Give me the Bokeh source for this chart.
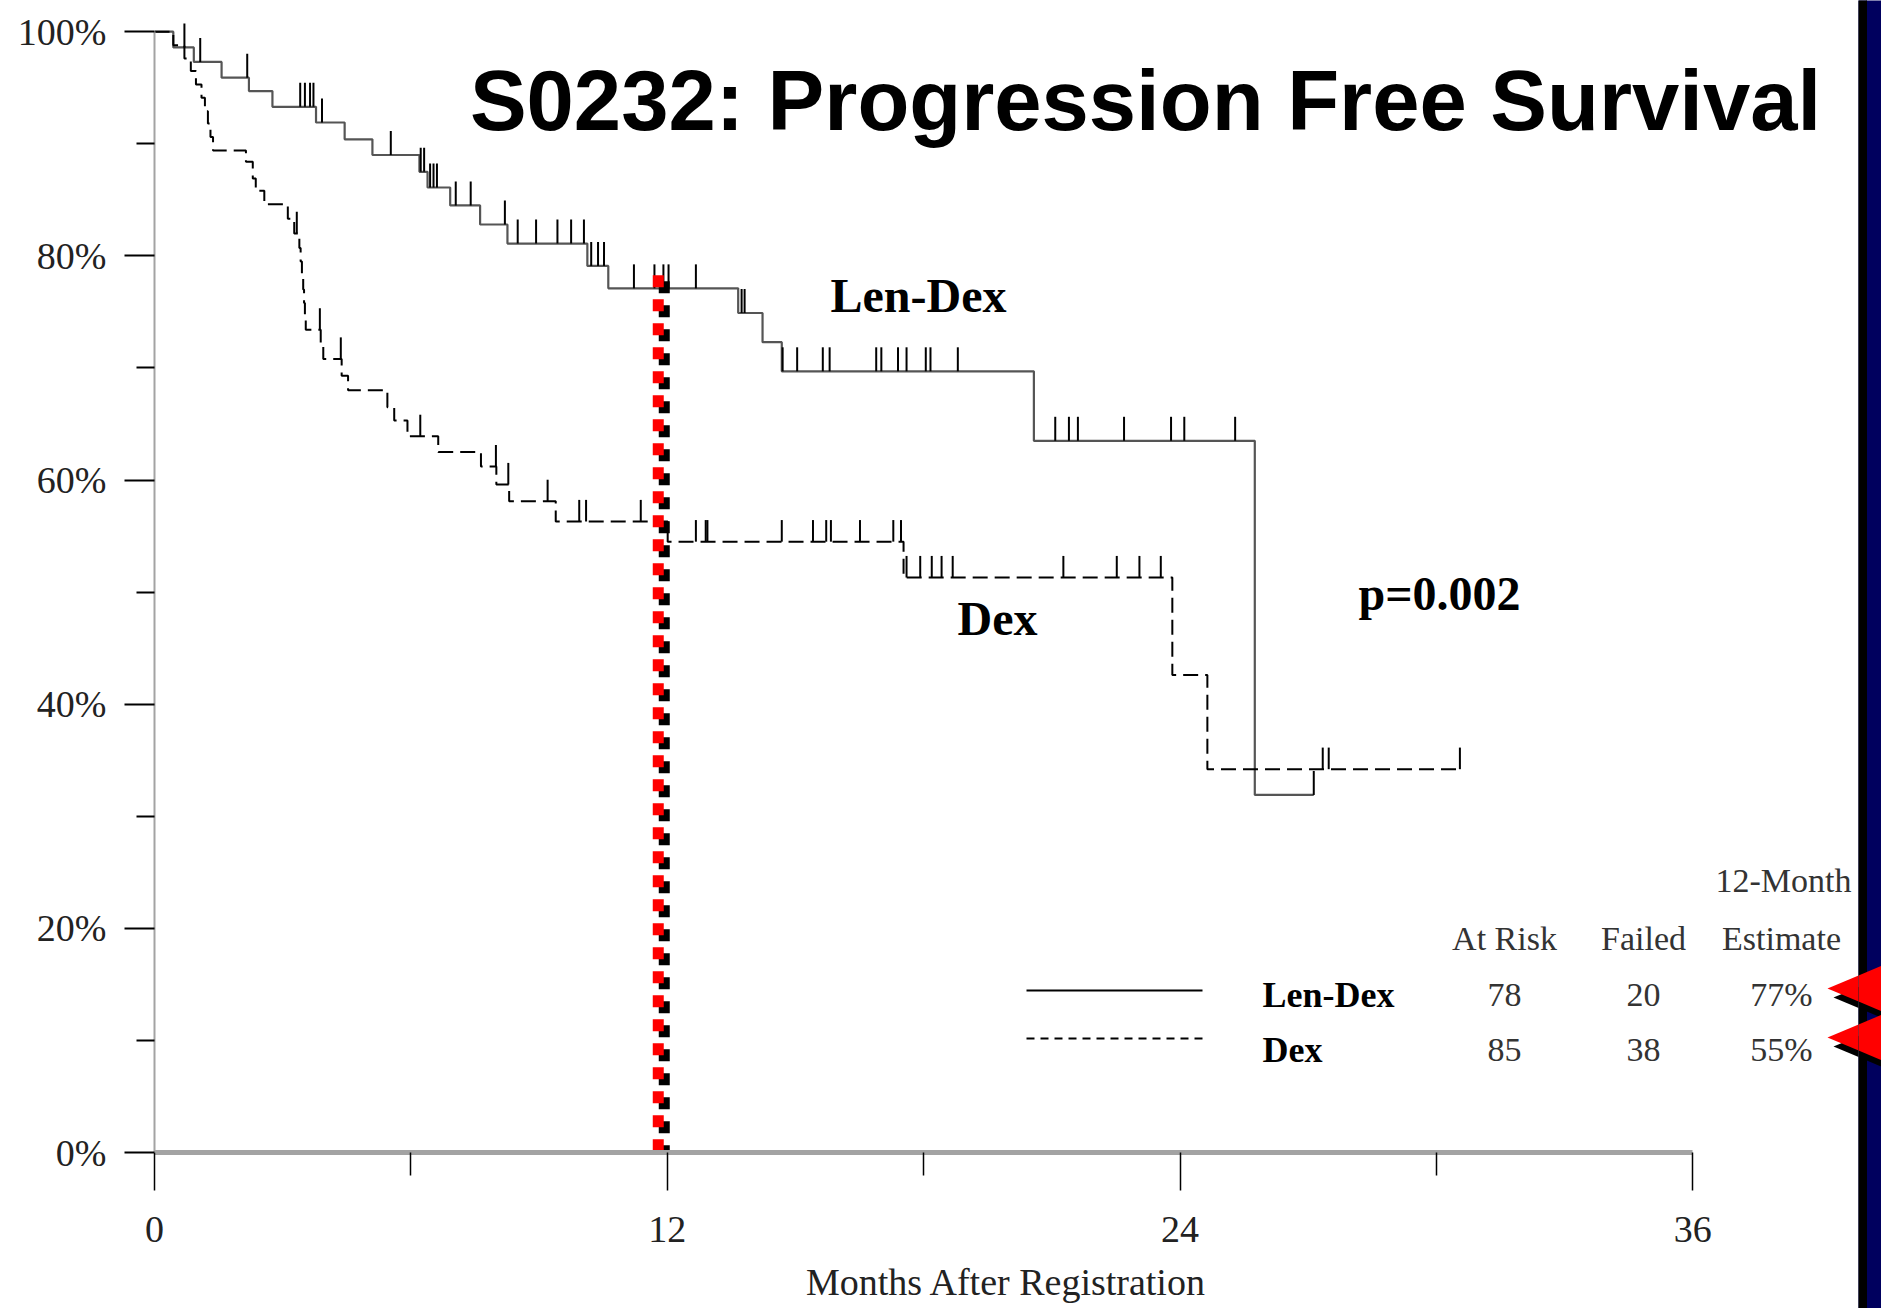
import numpy as np
from bokeh.plotting import figure
from bokeh.layouts import row
from bokeh.models import Range1d, FixedTicker, NumeralTickFormatter, PolyAnnotation
from bokeh.core.properties import value
from bokeh.embed import file_html
from bokeh.resources import INLINE

# ---------------- data ----------------
title_text = "S0232: Progression Free Survival"
x_axis_title = "Months After Registration"
x_ticks = [0, 12, 24, 36]
x_minor = [6, 18, 30]
y_ticks = [0.0, 0.2, 0.4, 0.6, 0.8, 1.0]
y_minor = [0.1, 0.3, 0.5, 0.7, 0.9]

arm_names = ["Len-Dex", "Dex"]
at_risk = [78, 85]
failed = [20, 38]
estimate_12 = ["77%", "55%"]
landmark_month = 12
p_value_text = "p=0.002"

len_event_months = [0.44, 0.92, 1.57, 2.21, 2.76, 3.78, 4.45, 5.10, 6.20, 6.39, 6.92, 7.62, 8.26,
                    10.13, 10.62, 13.66, 14.23, 14.68, 20.58, 25.75]
len_event_surv = [0.986, 0.973, 0.959, 0.947, 0.933, 0.919, 0.904, 0.890, 0.875, 0.861, 0.845,
                  0.828, 0.811, 0.791, 0.771, 0.749, 0.723, 0.697, 0.635, 0.319]
len_last_month = 27.13
len_censor_months = [0.70, 1.07, 2.17, 3.41, 3.52, 3.64, 3.72, 3.92, 5.53, 6.23, 6.31, 6.45, 6.53,
                     6.61, 7.05, 7.40, 8.20, 8.50, 8.93, 9.43, 9.75, 10.05, 10.22, 10.38, 10.52,
                     11.22, 11.70, 11.91, 12.03, 12.67, 13.74, 13.81, 14.70, 15.04, 15.64, 15.80,
                     16.89, 17.01, 17.40, 17.60, 18.05, 18.16, 18.80, 21.08, 21.40, 21.61, 22.69,
                     23.79, 24.10, 25.29, 27.13]

dex_event_months = [0.44, 0.70, 0.85, 0.97, 1.10, 1.18, 1.25, 1.31, 1.37, 2.14, 2.30, 2.37, 2.57,
                    3.12, 3.27, 3.39, 3.42, 3.45, 3.48, 3.50, 3.52, 3.54, 3.89, 3.95, 4.38, 4.53,
                    5.45, 5.61, 5.92, 6.64, 7.64, 8.00, 8.30, 9.39, 12.01, 17.53, 23.82, 24.64]
dex_event_surv = [0.988, 0.976, 0.965, 0.953, 0.941, 0.929, 0.918, 0.906, 0.894, 0.884, 0.869,
                  0.858, 0.846, 0.833, 0.820, 0.807, 0.795, 0.783, 0.770, 0.758, 0.746, 0.734,
                  0.721, 0.708, 0.693, 0.680, 0.665, 0.653, 0.639, 0.625, 0.612, 0.596, 0.581,
                  0.563, 0.545, 0.513, 0.426, 0.342]
dex_last_month = 30.55
dex_censor_months = [3.33, 3.87, 4.36, 6.22, 7.99, 8.28, 9.20, 9.94, 10.10, 11.38, 12.67, 12.90,
                     12.94, 14.68, 15.41, 15.72, 15.83, 16.51, 17.29, 17.47, 17.60, 17.92, 18.19,
                     18.42, 18.68, 21.27, 22.52, 23.05, 23.55, 27.34, 27.48, 30.55]

# ---------------- layout helpers (page pixels -> data) ----------------
PAGE_W, H = 1881, 1308
W = 1858                    # main figure width; the slide's dark edge band follows
BL, BB = 154, 156
X0, PXM = 154.0, 42.73      # page x of month 0, px per month
Y0, PXS = 1152.0, 1120.8    # page y of 0 %, px per 100 %


def X(px):
    return (px - X0) / PXM


def Y(py):
    return (Y0 - py) / PXS


def surv_at(t, ev_t, ev_s):
    i = np.searchsorted(np.array(ev_t), t, side="right")
    return 1.0 if i == 0 else ev_s[i - 1]


p = figure(width=W, height=H, output_backend="svg", toolbar_location=None,
           x_range=Range1d(0, (W - BL) / PXM), y_range=Range1d(0, Y0 / PXS),
           min_border_left=BL, min_border_right=0, min_border_top=0, min_border_bottom=BB,
           margin=0)
p.outline_line_color = None
p.xgrid.visible = False
p.ygrid.visible = False
p.background_fill_color = "white"
p.border_fill_color = "white"

# axes
xa = p.xaxis[0]
xa.ticker = FixedTicker(ticks=x_ticks, minor_ticks=x_minor)
xa.bounds = (0, 36)
xa.axis_line_color = "#a3a3a3"
xa.axis_line_width = 5
xa.major_tick_line_color = "black"
xa.major_tick_line_width = 1.5
xa.major_tick_in = 0
xa.major_tick_out = 38
xa.minor_tick_line_color = "black"
xa.minor_tick_line_width = 1.5
xa.minor_tick_in = 0
xa.minor_tick_out = 23
xa.major_label_text_font = "Liberation Serif"
xa.major_label_text_font_size = "38px"
xa.major_label_text_color = "#222222"
xa.major_label_standoff = 26
xa.axis_label = x_axis_title
xa.axis_label_text_font = "Liberation Serif"
xa.axis_label_text_font_size = "38px"
xa.axis_label_text_font_style = "normal"
xa.axis_label_text_color = "#222222"
xa.axis_label_standoff = 16

ya = p.yaxis[0]
ya.ticker = FixedTicker(ticks=y_ticks, minor_ticks=y_minor)
ya.formatter = NumeralTickFormatter(format="0%")
ya.bounds = (0, 1)
ya.axis_line_color = "#a3a3a3"
ya.axis_line_width = 2
ya.major_tick_line_color = "black"
ya.major_tick_line_width = 2
ya.major_tick_in = 0
ya.major_tick_out = 30
ya.minor_tick_line_color = "black"
ya.minor_tick_line_width = 2
ya.minor_tick_in = 0
ya.minor_tick_out = 18
ya.major_label_text_font = "Liberation Serif"
ya.major_label_text_font_size = "38px"
ya.major_label_text_color = "#222222"
ya.major_label_standoff = 18

# KM curves
lx = [0] + len_event_months + [len_last_month]
ly = [1.0] + len_event_surv + [len_event_surv[-1]]
p.step(lx, ly, mode="after", line_color="#555555", line_width=2.2)
dx = [0] + dex_event_months + [dex_last_month]
dy = [1.0] + dex_event_surv + [dex_event_surv[-1]]
p.step(dx, dy, mode="after", line_color="black", line_width=2, line_dash="15 7")

TICK = 24 / PXS
ls = [surv_at(t, len_event_months, len_event_surv) for t in len_censor_months]
p.segment(x0=len_censor_months, y0=ls, x1=len_censor_months, y1=[s + TICK for s in ls],
          line_color="black", line_width=2)
ds = [surv_at(t, dex_event_months, dex_event_surv) for t in dex_censor_months]
p.segment(x0=dex_censor_months, y0=ds, x1=dex_censor_months, y1=[s + TICK * 0.9 for s in ds],
          line_color="black", line_width=2)

# 12-month landmark dotted line (black shadow + red)
top12 = surv_at(landmark_month, len_event_months, len_event_surv)
p.line([landmark_month - 3 / PXM] * 2, [top12 + 7 / PXS, -6 / PXS], line_color="black",
       line_width=11, line_dash="12 12")
p.line([landmark_month - 9 / PXM] * 2, [top12 + 13 / PXS, 0], line_color="#ff0000",
       line_width=11, line_dash="12 12")

# texts
p.text(x=[X(1145)], y=[Y(100)], text=[title_text], text_font=value("Liberation Sans"),
       text_font_style="bold", text_font_size="85px", text_align="center",
       text_baseline="middle", text_color="black")
p.text(x=[X(918), X(997)], y=[Y(295), Y(618)], text=arm_names,
       text_font=value("Liberation Serif"), text_font_style="bold", text_font_size="48px",
       text_align="center", text_baseline="middle", text_color="black")
p.text(x=[X(1439)], y=[Y(593)], text=[p_value_text], text_font=value("Liberation Serif"),
       text_font_style="bold", text_font_size="48px", text_align="center",
       text_baseline="middle", text_color="black")

# table
col_x = [X(1504), X(1643), X(1781)]
row_y = [Y(994), Y(1049)]
p.text(x=[X(1783)], y=[Y(880)], text=["12-Month"], text_font=value("Liberation Serif"),
       text_font_size="34px", text_align="center", text_baseline="middle", text_color="#333333")
p.text(x=col_x, y=[Y(938)] * 3, text=["At Risk", "Failed", "Estimate"],
       text_font=value("Liberation Serif"), text_font_size="34px", text_align="center",
       text_baseline="middle", text_color="#333333")
for i in range(2):
    p.text(x=[X(1262)], y=[row_y[i]], text=[arm_names[i]], text_font=value("Liberation Serif"),
           text_font_style="bold", text_font_size="36px", text_align="left",
           text_baseline="middle", text_color="black")
    p.text(x=col_x, y=[row_y[i]] * 3, text=[str(at_risk[i]), str(failed[i]), estimate_12[i]],
           text_font=value("Liberation Serif"), text_font_size="34px", text_align="center",
           text_baseline="middle", text_color="#333333")
p.line([X(1026), X(1202)], [Y(990)] * 2, line_color="black", line_width=2)
p.line([X(1026), X(1202)], [Y(1038)] * 2, line_color="black", line_width=2, line_dash="8 6")

# arrows pointing at the 12-month estimates (part inside the main figure)
tips = [988, 1037]
HALF, LEN = 26, 62
arrow_layers = [((6, 9), "black"), ((0, 0), "#ff0000")]   # shadow first, red on top
for (ox, oy), col in arrow_layers:
    for ty in tips:
        tx = 1827 + ox
        p.add_layout(PolyAnnotation(xs=[X(tx), X(tx + LEN), X(tx + LEN)],
                                    ys=[Y(ty + oy), Y(ty + oy - HALF), Y(ty + oy + HALF)],
                                    fill_color=col, fill_alpha=1, line_color=None, line_alpha=0))

# dark slide edge at the right: a narrow companion figure in page-pixel coordinates
BW = PAGE_W - W
edge = figure(width=BW, height=H, output_backend="svg", toolbar_location=None,
              x_range=Range1d(W, PAGE_W), y_range=Range1d(H, 0),
              x_axis_location=None, y_axis_location=None, min_border=0, margin=0)
if "frame_align" in type(edge).properties():
    edge.frame_align = False
else:
    edge.y_range = Range1d(Y0, 0)
edge.outline_line_color = None
edge.xgrid.visible = False
edge.ygrid.visible = False
edge.background_fill_color = "#00005e"
edge.border_fill_color = "#00005e"
edge.quad(left=[W - 5], right=[W + 8], top=[-5], bottom=[H + 5], color="black")
for (ox, oy), col in arrow_layers:
    for ty in tips:
        tx = 1827 + ox
        edge.patch([tx, tx + LEN, tx + LEN], [ty + oy, ty + oy - HALF, ty + oy + HALF],
                   color=col, line_width=0)

page = row(p, edge, spacing=0, margin=0)
open("out.html", "w").write(file_html(page, INLINE))
